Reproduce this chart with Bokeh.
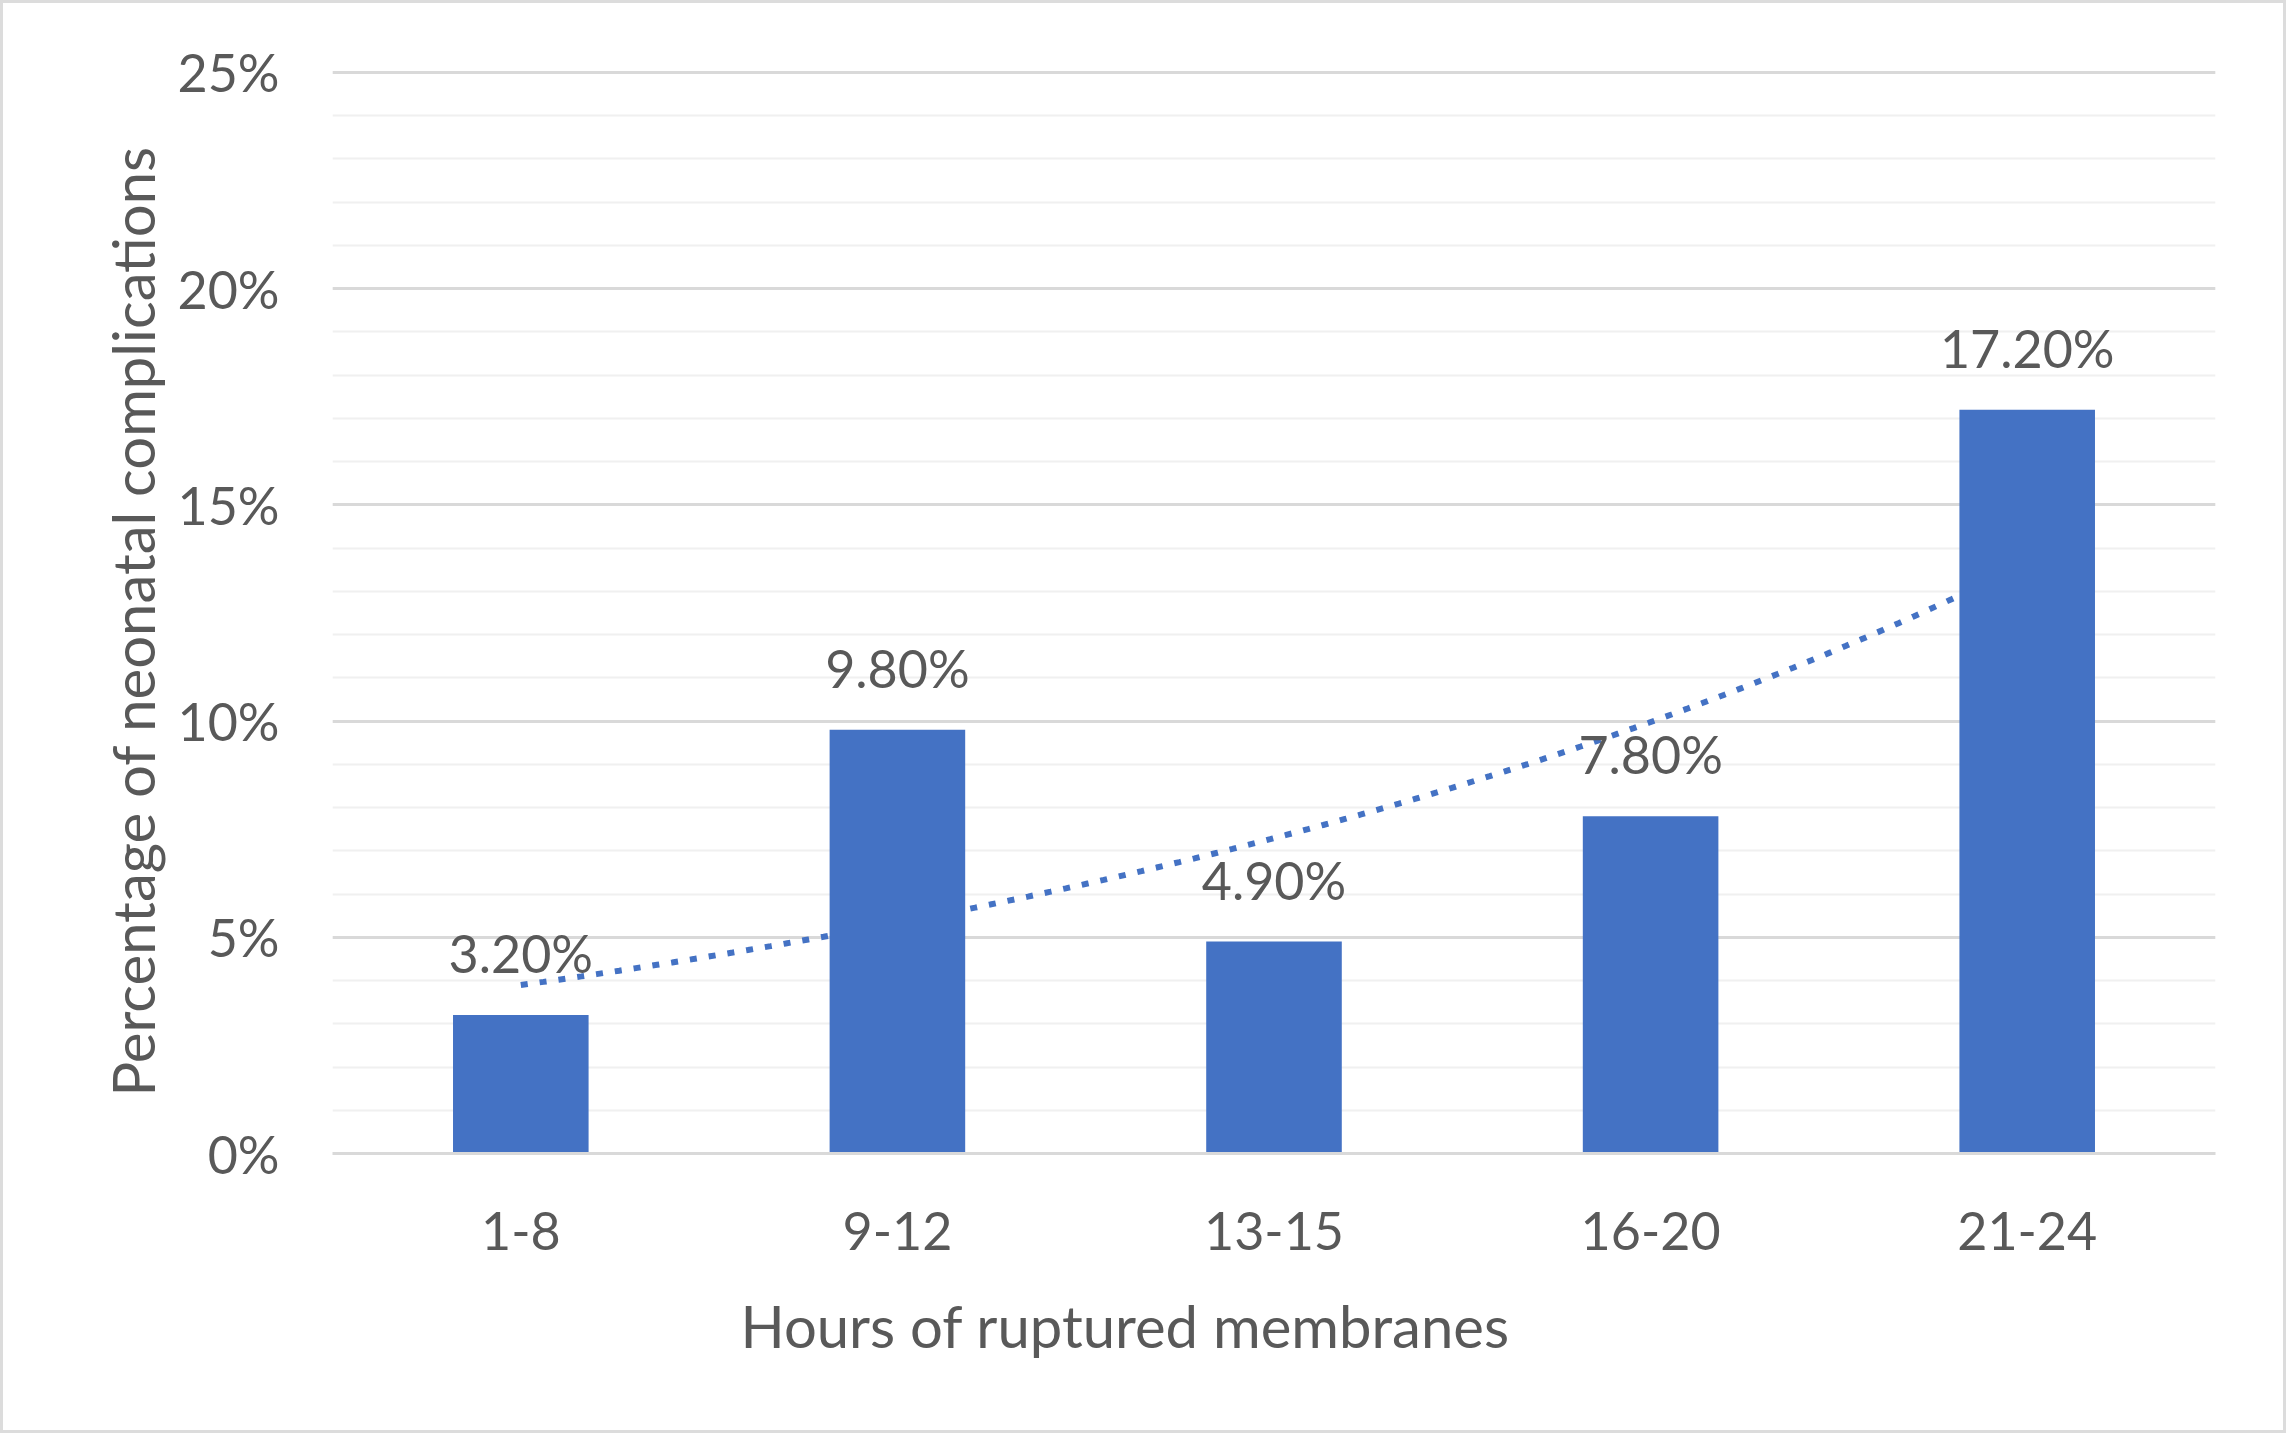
import numpy as np
from bokeh.plotting import figure
from bokeh.models import (FactorRange, Range1d, ColumnDataSource, LabelSet, Title,
                          SingleIntervalTicker, PrintfTickFormatter)
from bokeh.core.properties import value
from bokeh.embed import file_html
from bokeh.resources import INLINE

# ---- data ----
categories = ["1-8", "9-12", "13-15", "16-20", "21-24"]
values = [3.2, 9.8, 4.9, 7.8, 17.2]
bar_labels = ["3.20%", "9.80%", "4.90%", "7.80%", "17.20%"]
x_title = "Hours of ruptured membranes"
y_title = "Percentage of neonatal complications"

FONT = "Lato"
TXT = "#595959"
BAR = "#4472C4"

p = figure(width=2286, height=1433, output_backend="svg", toolbar_location=None,
           x_range=FactorRange(factors=categories, range_padding=0),
           y_range=Range1d(0, 25.09),
           min_border_left=329, min_border_right=74,
           min_border_top=65, min_border_bottom=283)
p.styles = {"border": "3px solid #dcdcdc", "box-sizing": "border-box"}
p.outline_line_color = None
p.background_fill_color = "white"
p.border_fill_color = "white"

# grid
p.xgrid.grid_line_color = None
p.yaxis.ticker = SingleIntervalTicker(interval=5, num_minor_ticks=5)
p.ygrid.grid_line_color = "#d9d9d9"
p.ygrid.grid_line_width = 3
p.ygrid.minor_grid_line_color = "#f0f0f0"
p.ygrid.minor_grid_line_width = 2

# exponential trendline (least-squares fit of the data), drawn behind bars
xi = np.arange(1, len(values) + 1)
b, ln_a = np.polyfit(xi, np.log(values), 1)
xs = np.linspace(1, len(values), 200)
ys = np.exp(ln_a) * np.exp(b * xs)
p.line(x=xs - 0.5, y=ys, line_color=BAR, line_width=6, line_dash="7 12")

src = ColumnDataSource(dict(cat=categories, val=values, lab=bar_labels))
p.vbar(x="cat", top="val", width=0.36, source=src, fill_color=BAR, line_color=None)

labels = LabelSet(x="cat", y="val", text="lab", source=src, y_offset=62,
                  text_align="center", text_baseline="middle",
                  text_font=value(FONT), text_font_size=value("52px"),
                  text_color=TXT)
p.add_layout(labels)

# axes
p.yaxis.formatter = PrintfTickFormatter(format="%d%%")
for ax in (p.xaxis, p.yaxis):
    ax.major_tick_line_color = None
    ax.minor_tick_line_color = None
    ax.major_label_text_font = FONT
    ax.major_label_text_font_size = "52px"
    ax.major_label_text_color = TXT
p.yaxis.axis_line_color = None
p.xaxis.axis_line_color = "#d9d9d9"
p.xaxis.axis_line_width = 3
p.yaxis.major_label_standoff = 47
p.xaxis.major_label_standoff = 52

xt = Title(text=x_title, align="left", offset=408, standoff=72,
           text_font=FONT, text_font_size="58px", text_font_style="normal",
           text_color=TXT)
p.add_layout(xt, "below")

yt = Title(text=y_title, align="left", offset=57, standoff=15,
           text_font=FONT, text_font_size="58px", text_font_style="normal",
           text_color=TXT)
p.add_layout(yt, "left")

open("out.html", "w").write(file_html(p, INLINE))
